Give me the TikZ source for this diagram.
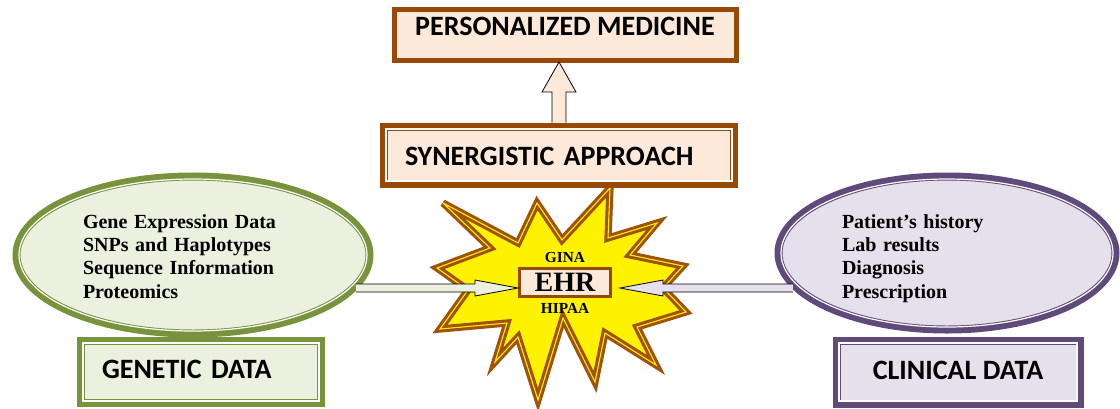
\documentclass[tikz,border=0pt]{standalone}
\usepackage{fontspec}
\setmainfont{Liberation Serif}
\newfontfamily\boxfont{Carlito}
\usetikzlibrary{positioning}
\usetikzlibrary{calc}
\usetikzlibrary{shapes.geometric}
\definecolor{boxbrown}{HTML}{984807}
\definecolor{boxpeach}{HTML}{FDE9D9}
\definecolor{genegreen}{HTML}{77933C}
\definecolor{genefill}{HTML}{EBF1DE}
\definecolor{clinpurple}{HTML}{604A7B}
\definecolor{clinfill}{HTML}{E5E0EC}
\definecolor{burstbrown}{HTML}{A0520A}
\tikzset{
  title box/.style={
    rectangle, inner sep=0pt, outer sep=0pt,
    font=\boxfont\bfseries\fontsize{21}{25}\selectfont,
  },
  data ellipse/.style={
    ellipse, inner sep=0pt, outer sep=0pt, line width=6pt, align=left,
    font=\bfseries\fontsize{15}{17.5}\selectfont, text depth=55.5pt,
  },
  inner line/.style={draw=white, line width=0.9pt},
  block arrow/.style={draw=black, line width=0.6pt},
  seal text/.style={inner sep=0pt, font=\bfseries\fontsize{11.5}{13}\selectfont},
}

\begin{document}
\begin{tikzpicture}[x=0.75pt, y=-0.75pt]
  \useasboundingbox (0,0) rectangle (1120,408);

  % Burst behind the EHR box
  \draw[draw=burstbrown, line width=2.3pt, double=yellow, double distance=0.8pt,
        fill=yellow, miter limit=6]
    (443,203) -- (518,243) -- (537,203) -- (562,240) -- (610,188) -- (608,238)
    -- (657,223) -- (630,255) -- (683,266) -- (663,288) -- (686,312) -- (637,327)
    -- (656,365) -- (605,333) -- (595,382) -- (563,318) -- (538,400) -- (518,337)
    -- (495,362) -- (507,323) -- (440,329) -- (468,290) -- (437,268) -- (490,248)
    -- cycle;

  % Define nodes
  \node[title box, draw=boxbrown, fill=boxpeach, line width=3.75pt,
        minimum width=256.5pt, text height=19.5pt, text depth=18.75pt]
    (pm) at (565,34.5) {PERSONALIZED MEDICINE};
  \node[title box, draw=boxbrown, fill=boxpeach, line width=6pt,
        inner xsep=16.1pt, text width=231pt, align=left,
        text height=29.6pt, text depth=13.15pt]
    (syn) at (559,155) {SYNERGISTIC APPROACH};

  \node[data ellipse, draw=genegreen, fill=genefill, minimum width=264.75pt,
        minimum height=117.75pt, text width=165pt, text height=15pt]
    (genel) at (193,255) {Gene Expression Data\\SNPs and Haplotypes\\Sequence Information\\Proteomics};
  \node[title box, draw=genegreen, fill=genefill, line width=6pt,
        inner xsep=16.1pt, text width=148.5pt, align=left,
        text height=28.1pt, text depth=19.1pt]
    (gen) at (201,372) {GENETIC DATA};

  \node[data ellipse, draw=clinpurple, fill=clinfill, minimum width=252.75pt,
        minimum height=114.75pt, text width=157.5pt, text height=18pt]
    (clinel) at (947,253) {Patient’s history\\Lab results\\Diagnosis\\Prescription};
  \node[title box, draw=clinpurple, fill=clinfill, line width=6pt,
        minimum width=182.25pt, text height=29pt, text depth=18.25pt]
    (clin) at (958,372) {CLINICAL DATA};

  \node[draw=boxbrown, fill=boxpeach, line width=2.25pt, inner sep=0pt, outer sep=0pt,
        minimum width=68.25pt, text height=17.6pt, text depth=3.4pt,
        font=\bfseries\fontsize{21}{22}\selectfont]
    (ehr) at (565,282.5) {EHR};
  \node[seal text, above=4.1pt of ehr] (gina) {GINA};
  \node[seal text, below=4.9pt of ehr] (hipaa) {HIPAA};

  % Double borders
  \foreach \n in {syn, gen, clin}
    \draw[inner line] ([shift={(2.5,2.5)}]\n.north west) rectangle ([shift={(-2.5,-2.5)}]\n.south east);
  \draw[inner line] (genel.center) ellipse [x radius=174, y radius=76];
  \draw[inner line] (clinel.center) ellipse [x radius=166, y radius=74];

  % Connect nodes
  \coordinate (uptip) at ($(syn.north |- pm.south)+(0,2)$);
  \coordinate (upbase) at ($(syn.north)+(0,-4)$);
  \filldraw[block arrow, fill=boxpeach]
    ($(upbase)+(-7,0)$) -- ($(uptip)+(-7,30)$) -- ($(uptip)+(-17,30)$) -- (uptip)
    -- ($(uptip)+(17,30)$) -- ($(uptip)+(7,30)$) -- ($(upbase)+(7,0)$);

  \coordinate (ltip) at ($(ehr.west)+(-1.5,5.5)$);
  \coordinate (lbase) at ($(genel.-12 |- ltip)+(4,0)$);
  \filldraw[block arrow, fill=genefill]
    ($(lbase)+(0,-4)$) -- ($(ltip)+(-43,-4)$) -- ($(ltip)+(-43,-8)$) -- (ltip)
    -- ($(ltip)+(-43,8)$) -- ($(ltip)+(-43,4)$) -- ($(lbase)+(0,4)$);

  \coordinate (rtip) at ($(ehr.east)+(9.5,5.5)$);
  \coordinate (rbase) at ($(clinel.193 |- rtip)+(-4,0)$);
  \filldraw[block arrow, fill=clinfill]
    ($(rbase)+(0,-4)$) -- ($(rtip)+(43,-4)$) -- ($(rtip)+(43,-8)$) -- (rtip)
    -- ($(rtip)+(43,8)$) -- ($(rtip)+(43,4)$) -- ($(rbase)+(0,4)$);

\end{tikzpicture}
\end{document}
